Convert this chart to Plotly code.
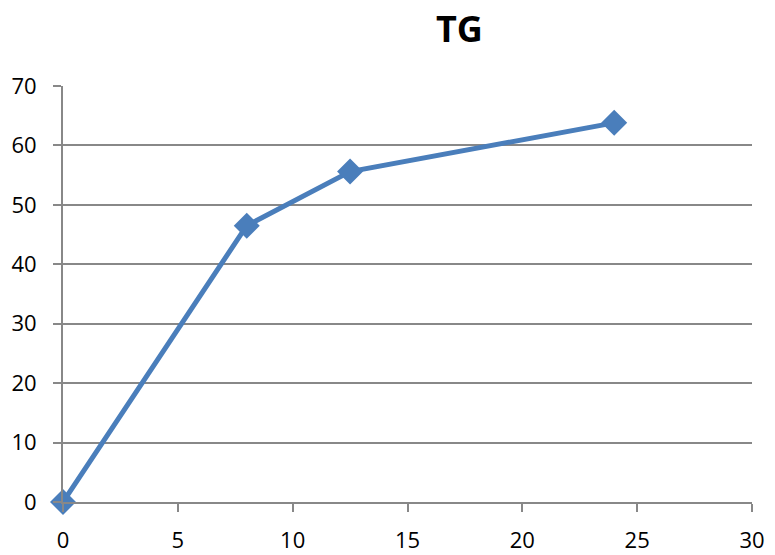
import plotly.graph_objects as go

x_vals = [0, 8, 12.5, 24]
y_vals = [0, 46.5, 55.6, 63.8]
title_text = "TG"

fig = go.Figure()
fig.add_trace(go.Scatter(
    x=x_vals, y=y_vals, mode="lines+markers",
    line=dict(color="#4a7ebb", width=5),
    marker=dict(symbol="diamond", size=20, color="#4a7ebb"),
    cliponaxis=False, showlegend=False,
))

axis_font = dict(family="Open Sans, Liberation Sans, sans-serif", size=22, color="#000000")
fig.add_annotation(
    text="<b>" + title_text + "</b>", xref="paper", yref="paper",
    x=0.575, y=1 + 58/416, xanchor="center", yanchor="middle", showarrow=False,
    font=dict(family="Open Sans, Liberation Sans, sans-serif", size=36, color="#000000"),
)
fig.update_layout(
    width=775, height=555,
    margin=dict(l=55, r=31, t=78, b=61, autoexpand=False),
    plot_bgcolor="white", paper_bgcolor="white",
    xaxis=dict(range=[0, 30], dtick=5, showgrid=False, zeroline=False, automargin=False,
               showline=True, linecolor="#888888", linewidth=2,
               ticks="outside", ticklen=8, tickcolor="#888888", tickwidth=2,
               ticklabelstandoff=10, tickfont=axis_font),
    yaxis=dict(range=[0, 70], dtick=10, showgrid=True, gridcolor="#888888", gridwidth=2,
               zeroline=False, showline=True, linecolor="#888888", linewidth=2, automargin=False,
               ticks="outside", ticklen=8, tickcolor="#888888", tickwidth=2,
               ticklabelstandoff=12, tickfont=axis_font),
)
fig.write_html("out.html")
